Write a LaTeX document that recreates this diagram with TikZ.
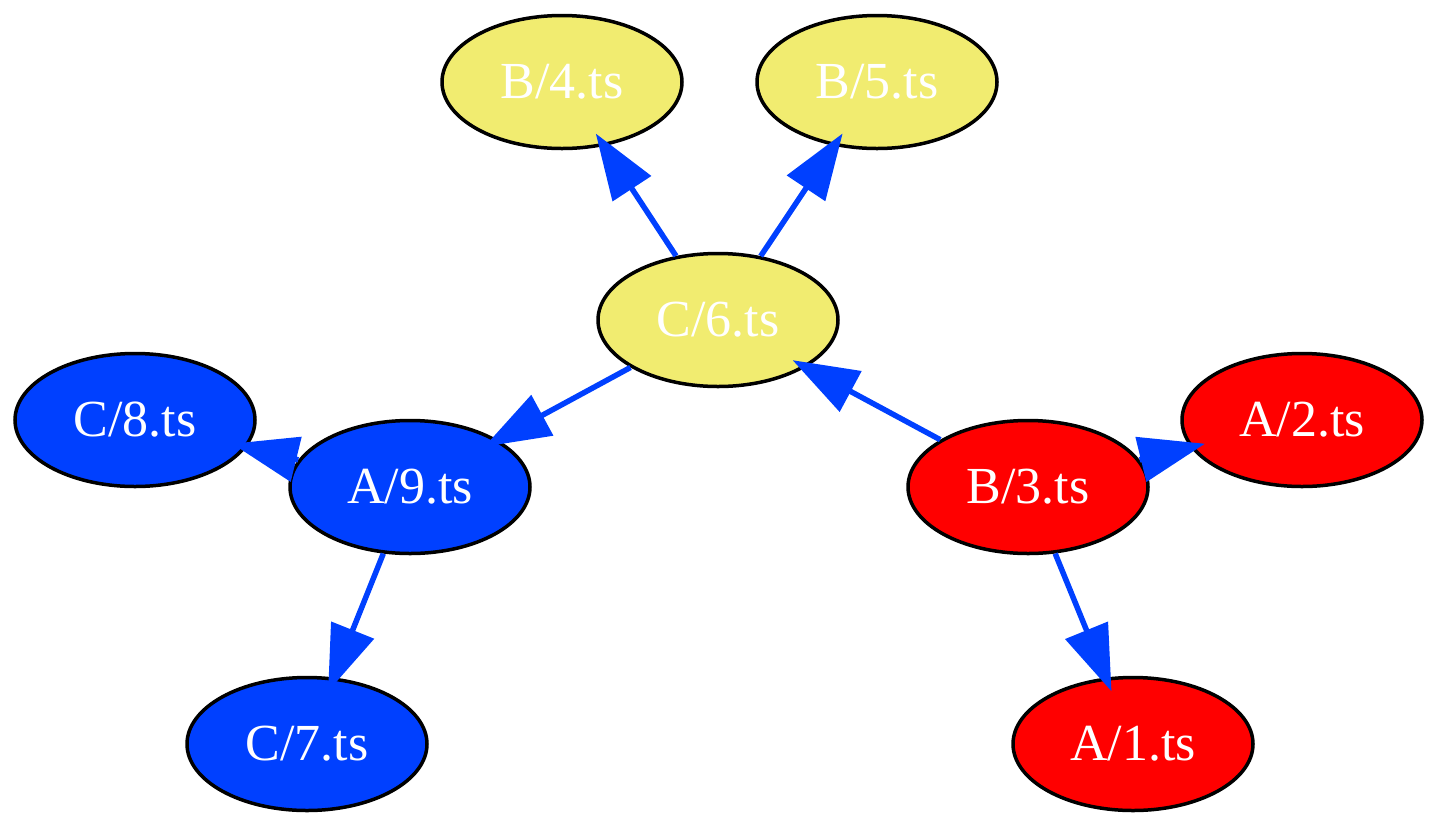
\documentclass[tikz,border=0pt]{standalone}
\usepackage{fontspec}
\setmainfont{Liberation Serif}
\usetikzlibrary{shapes.geometric,arrows.meta}
\definecolor{depblue}{RGB}{0,64,255}
\definecolor{depred}{RGB}{255,0,0}
\definecolor{depyellow}{RGB}{241,236,112}
\begin{document}
\begin{tikzpicture}[
		file/.style={ellipse, draw=black, line width=0.035cm, minimum width=2.40cm, minimum height=1.33cm, inner sep=0pt, text=white, font=\fontsize{14.8pt}{17pt}\selectfont},
		dep/.style={draw=depblue, line width=0.055cm, -{Triangle[length=0.66cm,width=0.45cm]}, shorten >=-0.15cm}
	]
		\useasboundingbox (0,0) rectangle (14.40,-8.28);

		\foreach \name/\x/\y/\col/\label in {b4/5.62/-0.82/depyellow/B\slash 4.ts, b5/8.77/-0.82/depyellow/B\slash 5.ts, c6/7.18/-3.20/depyellow/C\slash 6.ts,
			c8/1.35/-4.20/depblue/C\slash 8.ts, a9/4.10/-4.87/depblue/A\slash 9.ts, c7/3.07/-7.44/depblue/C\slash 7.ts,
			b3/10.28/-4.87/depred/B\slash 3.ts, a2/13.02/-4.20/depred/A\slash 2.ts, a1/11.33/-7.44/depred/A\slash 1.ts} {
			\node [file, fill=\col] (\name) at (\x,\y) {\label};
		}

		\foreach \from/\to in {c6/b4, c6/b5, c6/a9, b3/c6, b3/a2, b3/a1, a9/c8, a9/c7} {
			\draw [dep] (\from) -- (\to);
		}
	\end{tikzpicture}
\end{document}
